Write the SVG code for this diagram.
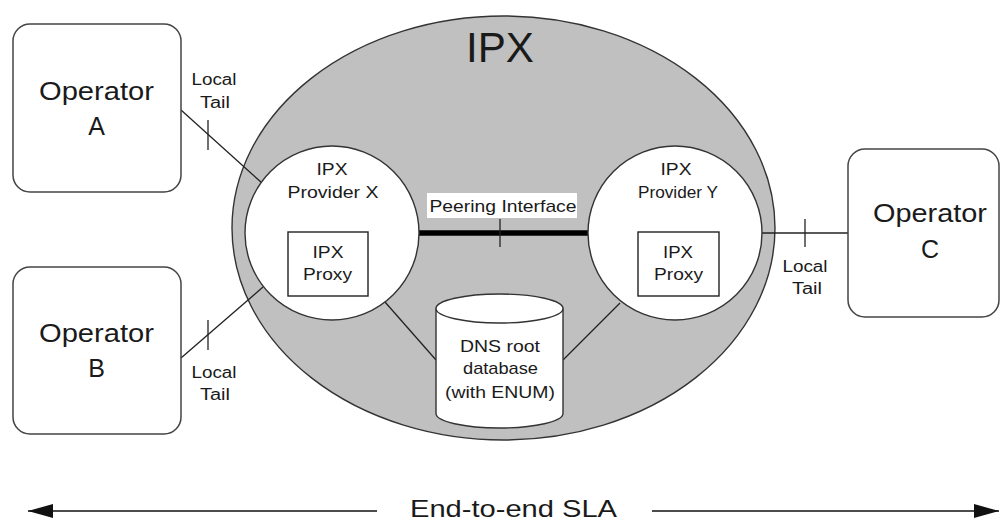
<svg xmlns="http://www.w3.org/2000/svg" width="1001" height="520" viewBox="0 0 1001 520">
<style>
text{font-family:"Liberation Sans",Arial,sans-serif;fill:#1a1a1a;text-anchor:middle}
.op{fill:#fff;stroke:#444;stroke-width:1.5}
.big{font-size:25px}
.sm{font-size:16px}
.md{font-size:17px}
.ln{stroke:#222;stroke-width:1.3;fill:none}
.wh{fill:#fff;stroke:#333;stroke-width:1.4}
</style>
<defs>
<marker id="ah" markerWidth="26" markerHeight="16" refX="25" refY="8" orient="auto" markerUnits="userSpaceOnUse">
<path d="M0,1 L25,8 L0,15 Z" fill="#111"/>
</marker>
</defs>
<rect width="1001" height="520" fill="#fff"/>
<g id="ipx">
<ellipse cx="503.5" cy="228" rx="271.5" ry="212" fill="#c0c0c0" stroke="#333" stroke-width="1.4"/>
<text x="500" y="62" font-size="42" textLength="68" lengthAdjust="spacingAndGlyphs">IPX</text>
</g>
<g id="connectors">
<line class="ln" x1="181" y1="110" x2="262" y2="183"/>
<line class="ln" x1="208" y1="120" x2="208" y2="150"/>
<line class="ln" x1="181" y1="358" x2="263" y2="287"/>
<line class="ln" x1="208" y1="320" x2="208" y2="350"/>
<line class="ln" x1="762" y1="233" x2="848" y2="233"/>
<line class="ln" x1="805" y1="219" x2="805" y2="247"/>
<line class="ln" x1="385" y1="302" x2="436" y2="360"/>
<line class="ln" x1="620" y1="303" x2="563" y2="360"/>
<line x1="419" y1="233" x2="588" y2="233" stroke="#000" stroke-width="5.5"/>
<line class="ln" x1="500" y1="219" x2="500" y2="247"/>
<rect x="427" y="193" width="150" height="25" fill="#fff"/>
<text class="md" x="503" y="212" textLength="147" lengthAdjust="spacingAndGlyphs">Peering Interface</text>
<text class="sm" x="214" y="85" textLength="45" lengthAdjust="spacingAndGlyphs">Local</text>
<text class="sm" x="215" y="108" textLength="30" lengthAdjust="spacingAndGlyphs">Tail</text>
<text class="sm" x="214" y="378" textLength="45" lengthAdjust="spacingAndGlyphs">Local</text>
<text class="sm" x="215" y="400" textLength="30" lengthAdjust="spacingAndGlyphs">Tail</text>
<text class="sm" x="805" y="272" textLength="45" lengthAdjust="spacingAndGlyphs">Local</text>
<text class="sm" x="807" y="294" textLength="30" lengthAdjust="spacingAndGlyphs">Tail</text>
</g>
<g id="operatorA">
<rect class="op" x="13" y="24" width="168" height="168" rx="17"/>
<text class="big" x="96.5" y="100" textLength="115" lengthAdjust="spacingAndGlyphs">Operator</text>
<text class="big" x="96.5" y="135">A</text>
</g>
<g id="operatorB">
<rect class="op" x="13" y="267" width="168" height="167" rx="17"/>
<text class="big" x="96.5" y="342" textLength="115" lengthAdjust="spacingAndGlyphs">Operator</text>
<text class="big" x="96.5" y="377">B</text>
</g>
<g id="operatorC">
<rect class="op" x="848" y="149" width="151" height="168" rx="17"/>
<text class="big" x="930" y="222" textLength="114" lengthAdjust="spacingAndGlyphs">Operator</text>
<text class="big" x="930" y="258">C</text>
</g>
<g id="providerX">
<circle class="wh" cx="332" cy="233" r="87"/>
<text class="sm" x="332" y="175" textLength="31" lengthAdjust="spacingAndGlyphs">IPX</text>
<text class="sm" x="333" y="198" textLength="91" lengthAdjust="spacingAndGlyphs">Provider X</text>
<g id="proxyX">
<rect x="288" y="232" width="80" height="64" fill="#fff" stroke="#222" stroke-width="1.4"/>
<text class="sm" x="328" y="258" textLength="31" lengthAdjust="spacingAndGlyphs">IPX</text>
<text class="sm" x="327.5" y="280" textLength="49" lengthAdjust="spacingAndGlyphs">Proxy</text>
</g>
</g>
<g id="providerY">
<circle class="wh" cx="675" cy="233" r="87"/>
<text class="sm" x="676" y="175" textLength="31" lengthAdjust="spacingAndGlyphs">IPX</text>
<text class="sm" x="678" y="198" textLength="80" lengthAdjust="spacingAndGlyphs">Provider Y</text>
<g id="proxyY">
<rect x="638" y="232" width="81" height="64" fill="#fff" stroke="#222" stroke-width="1.4"/>
<text class="sm" x="678" y="258" textLength="30" lengthAdjust="spacingAndGlyphs">IPX</text>
<text class="sm" x="678.5" y="280" textLength="49" lengthAdjust="spacingAndGlyphs">Proxy</text>
</g>
</g>
<g id="dns">
<path d="M436,308.5 L436,413.5 A63.5,14.5 0 0 0 563,413.5 L563,308.5" fill="#fff" stroke="#333" stroke-width="1.4"/>
<ellipse cx="499.5" cy="308.5" rx="63.5" ry="14.5" fill="#fff" stroke="#333" stroke-width="1.4"/>
<text class="md" x="500" y="352" textLength="80" lengthAdjust="spacingAndGlyphs">DNS root</text>
<text class="md" x="500.5" y="374" textLength="75" lengthAdjust="spacingAndGlyphs">database</text>
<text class="md" x="500" y="398" textLength="110" lengthAdjust="spacingAndGlyphs">(with ENUM)</text>
</g>
<g id="sla">
<line x1="377" y1="511" x2="28" y2="511" stroke="#111" stroke-width="1.5" marker-end="url(#ah)"/>
<line x1="652" y1="511" x2="999" y2="511" stroke="#111" stroke-width="1.5" marker-end="url(#ah)"/>
<text x="513.5" y="517" font-size="24" textLength="207" lengthAdjust="spacingAndGlyphs">End-to-end SLA</text>
</g>
</svg>
